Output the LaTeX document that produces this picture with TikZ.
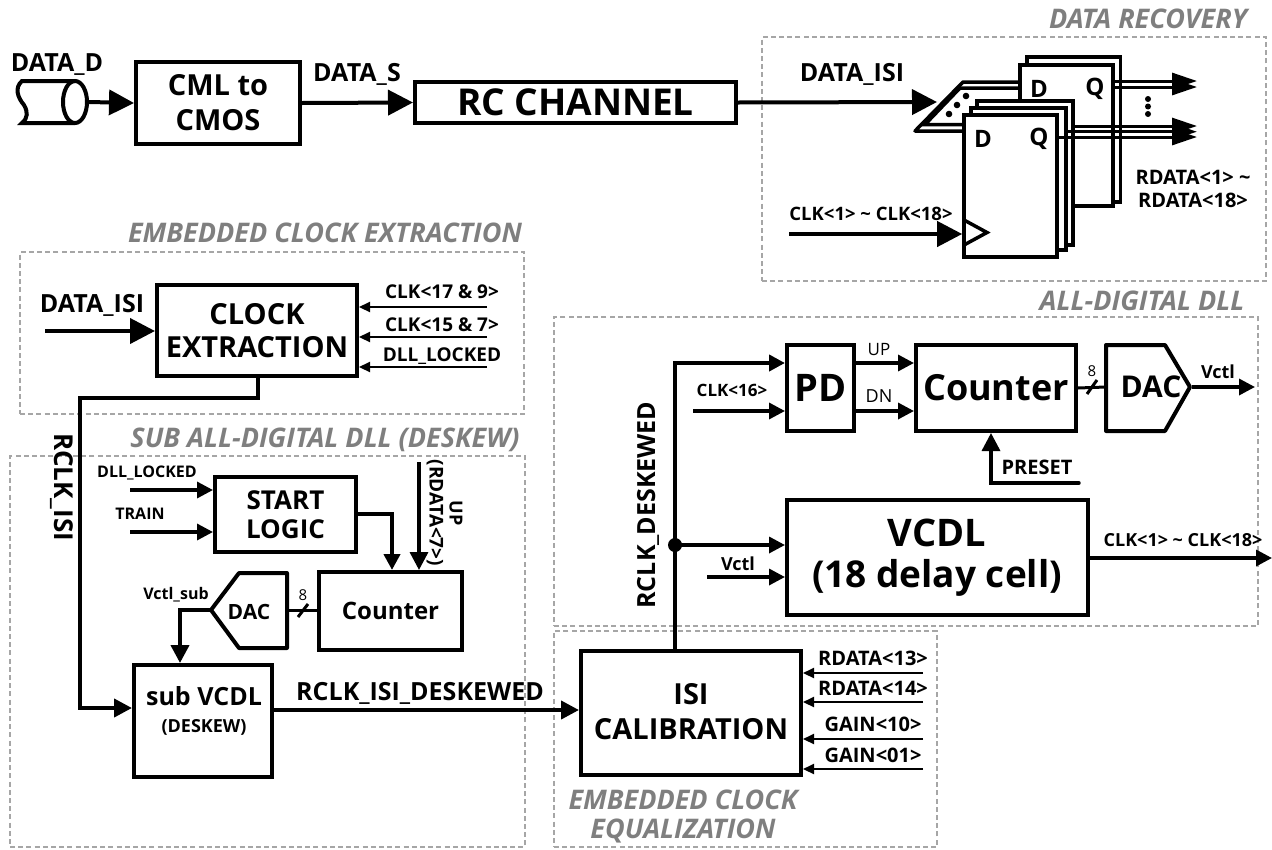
\documentclass[tikz,border=0pt]{standalone}
\usepackage{fontspec}
\setmainfont{Open Sans}
\usetikzlibrary{arrows.meta,shapes.geometric}
\tikzset{
  fs/.style={font=\fontsize{#1}{#1}\selectfont\bfseries},
  fr/.style={font=\fontsize{#1}{#1}\selectfont},
  blk/.style={draw=black,line width=4pt,fill=white,inner sep=0pt,align=center},
  region/.style={draw=regiongray,line width=2.4pt,dash pattern=on 5pt off 3.2pt,inner sep=0pt},
  rtitle/.style={text=titlegray,inner sep=0pt,align=center,font=\fontsize{27}{29}\selectfont\bfseries\itshape},
  lab/.style={inner sep=0pt,align=center},
  wire/.style={line width=4pt,line join=miter},
  thin wire/.style={line width=2.2pt},
  mid wire/.style={line width=3.4pt},
  big/.style={-{Triangle[length=25pt,width=25pt]}},
  med/.style={-{Triangle[length=18pt,width=18pt]}},
  smll/.style={-{Triangle[length=16pt,width=16pt]}},
  tiny/.style={-{Triangle[length=11pt,width=10pt]}},
  qtip/.style={-{Triangle[length=25pt,width=16pt]}},
  ff/.style={draw=black,line width=3.2pt,fill=white},
  pent/.style={draw=black,line width=4pt,fill=white,line join=round},
}
\definecolor{regiongray}{HTML}{A6A6A6}
\definecolor{titlegray}{HTML}{7F7F7F}
\newcommand{\blockat}[7]{%
  \node[blk,fs=#7,minimum width={(#4-#2)*1pt},minimum height={(#5-#3)*1pt}] (#1) at ({(#2+#4)/2},{(#3+#5)/2}) {#6};}
\newcommand{\regionat}[5]{%
  \node[region,minimum width={(#4-#2)*1pt},minimum height={(#5-#3)*1pt}] (#1) at ({(#2+#4)/2},{(#3+#5)/2}) {};}
\begin{document}
\begin{tikzpicture}[x=1pt,y=-1pt]
\useasboundingbox (0,0) rectangle (1272,849);
% regions
\regionat{rDR}{762}{37}{1266}{281}
\regionat{rCE}{20}{252}{524}{414}
\regionat{rSUB}{10}{456}{525}{847}
\regionat{rDLL}{554}{317}{1258}{626}
\regionat{rEQ}{554}{631}{937}{847}
\node[rtitle] (tDR) at (1148,19) {DATA RECOVERY};
\node[rtitle] (tCE) at (325,233) {EMBEDDED CLOCK EXTRACTION};
\node[rtitle] (tSUB) at (325,440) {SUB ALL-DIGITAL DLL (DESKEW)};
\node[rtitle] (tDLL) at (1142,301) {ALL-DIGITAL DLL};
\node[rtitle] (tEQ) at (683,816) {EMBEDDED CLOCK\\EQUALIZATION};
% top chain
\node[ellipse,draw,line width=4pt,minimum width=24pt,minimum height=42pt,inner sep=0pt] (cable) at (75,102) {};
\draw[line width=4pt,line cap=round] (75,81) -- (22,81) .. controls (14,88) and (18,98) .. (24,105) .. controls (28,112) and (28,118) .. (22,123) -- (75,123);
\blockat{cml}{136}{62}{300}{144}{CML to\\[6pt]CMOS}{29}
\blockat{rc}{415}{82}{736}{123}{RC CHANNEL}{37}
\node[lab,fs=25] (lD) at (57,65) {DATA\_D};
\node[lab,fs=25] (lS) at (357,74) {DATA\_S};
\draw[wire,big] (cable.east) -- (cml.west);
\draw[wire,big] (cml.east) -- (rc.west);
% data recovery
\coordinate (muxin) at (937,102);
\draw[wire,big] (rc.east) -- (muxin);
\node[lab,fs=25] (lDI) at (852,74) {DATA\_ISI};
\draw[line width=3.5pt,line join=round] (1030,82) -- (963,82) -- (915,131) -- (970,131);
\draw[line width=3.5pt] (1030,88) -- (960,88) -- (925,124.5) -- (970,124.5);
\fill (966,96) circle (3.3pt) (957,105) circle (3.3pt) (949,114) circle (3.3pt);
\draw[ff] (1027,57) rectangle (1120.5,202);
\draw[line width=4pt,fill=white] (1020,65) rectangle (1113,206);
\node[lab,fs=24] (bD) at (1039,89) {D};
\node[lab,fs=24] (bQ) at (1095,89) {Q};
\coordinate (bqs1) at (1113,81); \coordinate (bqe1) at (1197,81);
\coordinate (bqs2) at (1113,87); \coordinate (bqe2) at (1197,87);
\draw[line width=3pt,qtip] (bqs1) -- (bqe1);
\draw[line width=3pt,qtip] (bqs2) -- (bqe2);
\fill (1148,99) circle (3pt) (1148,106.5) circle (3pt) (1148,114) circle (3pt);
\draw[ff] (977,101) rectangle (1073,245);
\draw[ff] (971,108) rectangle (1066,250);
\node[blk,line width=3.6pt,minimum width=93pt,minimum height=142pt] (ffr) at (1010.5,186) {};
\node[lab,fs=24] (fD) at (983,138.5) {D};
\node[lab,fs=24] (fQ) at (1039,138.5) {Q};
\coordinate (fqs1) at (1073,126); \coordinate (fqe1) at (1197,126);
\coordinate (fqs2) at (1066,131.7); \coordinate (fqe2) at (1197,131.7);
\coordinate (fqs3) at (1057,137); \coordinate (fqe3) at (1197,137);
\draw[line width=3pt,qtip] (fqs1) -- (fqe1);
\draw[line width=3pt,qtip] (fqs2) -- (fqe2);
\draw[line width=3pt,qtip] (fqs3) -- (fqe3);
\draw[line width=3.5pt,line join=miter] (964,220) -- (987,232.5) -- (964,245);
\coordinate (clks) at (789,234);
\draw[wire,big] (clks) -- (clks -| ffr.west);
\node[lab,fs=18.5] (lclk) at (871,214) {CLK<1> \textasciitilde{} CLK<18>};
\node[lab,fs=20] (lrd1) at (1193,177) {RDATA<1> \textasciitilde};
\node[lab,fs=20] (lrd2) at (1193,200) {RDATA<18>};
% clock extraction
\blockat{ce}{157}{285}{357}{376}{CLOCK\\[4pt]EXTRACTION}{29}
\node[lab,fs=25] (lce) at (92,305) {DATA\_ISI};
\coordinate (ceA) at (45,331);
\draw[wire,big] (ceA) -- (ceA -| ce.west);
\coordinate (ce1) at (487,307); \coordinate (ce2) at (487,337); \coordinate (ce3) at (487,367);
\draw[thin wire,tiny] (ce1) -- (ce1 -| ce.east);
\draw[thin wire,tiny] (ce2) -- (ce2 -| ce.east);
\draw[thin wire,tiny] (ce3) -- (ce3 -| ce.east);
\node[lab,fs=19] (lc1) at (442,292) {CLK<17 \& 9>};
\node[lab,fs=19] (lc2) at (442,325) {CLK<15 \& 7>};
\node[lab,fs=19] (lc3) at (442,356) {DLL\_LOCKED};
% sub DLL
\blockat{sl}{215}{477}{356}{552}{START\\[3pt]LOGIC}{26}
\coordinate (sl1) at (130,490); \coordinate (sl2) at (130,532);
\draw[mid wire,smll] (sl1) -- (sl1 -| sl.west);
\draw[mid wire,smll] (sl2) -- (sl2 -| sl.west);
\node[lab,fs=16] (lsl1) at (147,473) {DLL\_LOCKED};
\node[lab,fs=16] (lsl2) at (140,514) {TRAIN};
\blockat{cnt}{319}{572}{462}{650}{Counter}{24}
\coordinate (slo) at (392,514);
\draw[wire,smll] (sl.east |- slo) -- (slo) -- (slo |- cnt.north);
\coordinate (ups) at (419,462);
\draw[mid wire,med] (ups) -- (ups |- cnt.north);
\node[lab,fs=18,rotate=-90] (lup) at (456,513) {UP};
\node[lab,fs=19,rotate=-90] (lrd7) at (435,513) {(RDATA<7>)};
\draw[pent] (211,610) -- (239,573) -- (287,573) -- (287,648) -- (239,648) -- cycle;
\coordinate (dacsW) at (211,610); \coordinate (dacsE) at (287,610);
\node[lab,fs=21] (ldacs) at (249,612) {DAC};
\draw[line width=3pt] (cnt.west |- dacsE) -- (dacsE);
\draw[line width=3pt] (298,617) -- (308,604);
\node[lab,fr=15] (l8s) at (303,595) {8};
\node[lab,fs=16] (lvs) at (176,595) {Vctl\_sub};
\blockat{sv}{134}{665}{272}{777}{}{25}
\node[lab,fs=25] (svt) at (204,696) {sub VCDL};
\node[lab,fs=18] (svd) at (204,727) {(DESKEW)};
\coordinate (vsc) at (180,610);
\draw[wire,med] (dacsW) -- (vsc) -- (vsc |- sv.north);
\coordinate (rc1) at (258,398); \coordinate (rc2) at (80,398);
\draw[wire,med] (ce.south -| rc1) -- (rc1) -- (rc2) -- (rc2 |- 0,708) -- (sv.west |- 0,708);
\node[lab,fs=26,rotate=-90] (lri) at (62,487) {RCLK\_ISI};
% equalization
\blockat{isi}{581}{651}{801}{775}{}{29}
\node[lab,fs=29] (isit) at (691,694) {ISI};
\node[lab,fs=29] (isic) at (691,729) {CALIBRATION};
\coordinate (ri) at (0,710);
\draw[wire,med] (sv.east |- ri) -- (isi.west |- ri);
\node[lab,fs=25] (lrid) at (420,693) {RCLK\_ISI\_DESKEWED};
\coordinate (i1) at (923,673); \coordinate (i2) at (923,702); \coordinate (i3) at (923,739); \coordinate (i4) at (923,769);
\draw[thin wire,tiny] (i1) -- (i1 -| isi.east);
\draw[thin wire,tiny] (i2) -- (i2 -| isi.east);
\draw[thin wire,tiny] (i3) -- (i3 -| isi.east);
\draw[thin wire,tiny] (i4) -- (i4 -| isi.east);
\node[lab,fs=20] (li1) at (873,658) {RDATA<13>};
\node[lab,fs=20] (li2) at (873,688) {RDATA<14>};
\node[lab,fs=20] (li3) at (873,724) {GAIN<10>};
\node[lab,fs=20] (li4) at (873,755) {GAIN<01>};
% all digital DLL
\blockat{pd}{787}{345}{854}{431}{PD}{38}
\blockat{cn}{916}{345}{1076}{431}{Counter}{36}
\blockat{vcdl}{787}{500}{1088}{615}{}{38}
\node[lab,fs=38] (vct) at (937,533) {VCDL};
\node[lab,fs=37] (vcd) at (937,578) {(18 delay cell)};
\coordinate (tr) at (675,363); \coordinate (dot) at (675,545);
\draw[wire,smll] (isi.north -| tr) -- (tr) -- (tr -| pd.west);
\fill (dot) circle (7pt);
\draw[mid wire,smll] (dot) -- (dot -| vcdl.west);
\coordinate (v2) at (707,577);
\draw[mid wire,smll] (v2) -- (v2 -| vcdl.west);
\node[lab,fs=18] (lv2) at (738,564) {Vctl};
\coordinate (c16) at (693,411);
\draw[mid wire,smll] (c16) -- (c16 -| pd.west);
\node[lab,fs=17] (lc16) at (732,390) {CLK<16>};
\node[lab,fs=25,rotate=90] (lrde) at (648,505) {RCLK\_DESKEWED};
\coordinate (up) at (0,363); \coordinate (dn) at (0,411);
\draw[mid wire,smll] (pd.east |- up) -- (cn.west |- up);
\draw[mid wire,smll] (pd.east |- dn) -- (cn.west |- dn);
\node[lab,fr=17] (lupp) at (879,350) {UP};
\node[lab,fr=18] (ldn) at (879,396) {DN};
\draw[pent] (1106,345) -- (1165,345) -- (1190,387) -- (1165,431) -- (1106,431) -- cycle;
\coordinate (dacW) at (1106,387); \coordinate (dacE) at (1192,387);
\node[lab,fs=30] (ldac) at (1151,387) {DAC};
\draw[line width=3pt] (cn.east) -- (dacW);
\draw[line width=3pt] (1087,394) -- (1097,380);
\node[lab,fr=15] (l8) at (1092,371) {8};
\coordinate (vo) at (1255,387);
\draw[mid wire,smll] (dacE) -- (vo);
\node[lab,fs=18] (lvo) at (1218,372) {Vctl};
\coordinate (pr) at (1079,483); \coordinate (pr2) at (991,483);
\draw[mid wire,med,line cap=round] (pr) -- (pr2) -- (pr2 |- cn.south);
\node[lab,fs=20] (lpr) at (1037,467) {PRESET};
\coordinate (co) at (1272,558);
\draw[mid wire,smll] (vcdl.east |- co) -- (co);
\node[lab,fs=18] (lco) at (1183,540) {CLK<1> \textasciitilde{} CLK<18>};
\end{tikzpicture}
\end{document}
